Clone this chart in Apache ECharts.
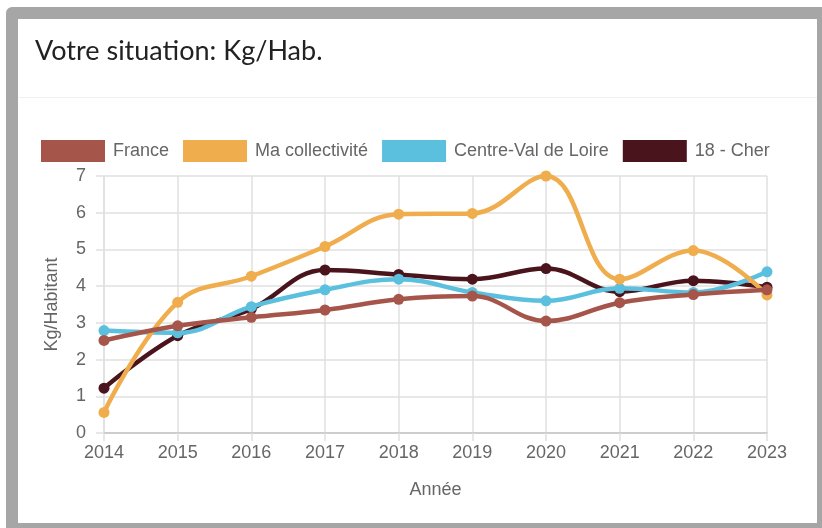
<!DOCTYPE html>
<html>
<head>
<meta charset="utf-8">
<script src="https://cdn.jsdelivr.net/npm/echarts@6/dist/echarts.min.js"></script>
<style>
html,body{margin:0;padding:0;background:#fff;width:822px;height:528px;overflow:hidden;position:relative;}
#frame{position:absolute;left:6px;top:7px;width:823px;height:528px;border:12px solid #a6a6a6;border-radius:6px 0 0 0;box-sizing:border-box;background:#fff;}
#sep{position:absolute;left:18px;top:97px;width:799px;height:1px;background:#f0f0f0;}
#chart{position:absolute;left:0;top:0;width:822px;height:528px;}
</style>
</head>
<body>
<div id="frame"></div>
<div id="sep"></div>
<div id="chart"></div>
<script>
const years = ['2014','2015','2016','2017','2018','2019','2020','2021','2022','2023'];
const france = [2.52, 2.92, 3.15, 3.35, 3.64, 3.73, 3.05, 3.55, 3.77, 3.90];
const maCollectivite = [0.56, 3.56, 4.27, 5.08, 5.96, 5.98, 7.00, 4.19, 4.97, 3.76];
const centreValDeLoire = [2.79, 2.73, 3.44, 3.90, 4.19, 3.83, 3.60, 3.94, 3.83, 4.39];
const cher = [1.22, 2.65, 3.38, 4.44, 4.32, 4.19, 4.48, 3.85, 4.15, 3.97];
const yTicks = [0, 1, 2, 3, 4, 5, 6, 7];

const colors = {
  'France': '#a6554a',
  'Ma collectivité': '#f0ad4e',
  'Centre-Val de Loire': '#5bc0de',
  '18 - Cher': '#4a141c'
};

function mk(name, data, z) {
  return {
    name: name, type: 'line', data: data, smooth: 0.4, z: z, clip: false,
    symbol: 'circle', symbolSize: 11, showSymbol: true,
    itemStyle: {color: colors[name]},
    lineStyle: {color: colors[name], width: 4.5},
    emphasis: {disabled: true}
  };
}

const chart = echarts.init(document.getElementById('chart'), null, {renderer: 'canvas'});
chart.setOption({
  animation: false,
  backgroundColor: 'transparent',
  title: {
    text: 'Votre situation: Kg/Hab.',
    left: 30, top: 33, padding: 5,
    textStyle: {fontFamily: 'Lato', fontWeight: 'normal', fontSize: 27, color: '#222'}
  },
  legend: {
    data: ['France', 'Ma collectivité', 'Centre-Val de Loire', '18 - Cher'],
    left: 41, top: 140, padding: 0,
    itemWidth: 64, itemHeight: 22, itemGap: 14,
    icon: 'rect',
    selectedMode: false,
    textStyle: {fontFamily: 'Liberation Sans', fontSize: 18, color: '#666', padding: [0, 0, 0, 3]}
  },
  grid: {left: 104, right: 55, top: 176, bottom: 95, containLabel: false},
  xAxis: {
    type: 'category', data: years, boundaryGap: false,
    name: 'Année', nameLocation: 'middle', nameGap: 48,
    nameTextStyle: {fontFamily: 'Liberation Sans', fontSize: 18, color: '#666'},
    axisLine: {show: true, lineStyle: {color: '#c4c4c4', width: 1.5}},
    axisTick: {show: true, length: 8, lineStyle: {color: '#e0e0e0', width: 1.5}},
    axisLabel: {fontFamily: 'Liberation Sans', fontSize: 18, color: '#666', margin: 11},
    splitLine: {show: true, lineStyle: {color: '#e0e0e0', width: 1.5}}
  },
  yAxis: {
    type: 'value', min: 0, max: 7, interval: 1,
    name: 'Kg/Habitant', nameLocation: 'middle', nameGap: 43, nameRotate: 90,
    nameTextStyle: {fontFamily: 'Liberation Sans', fontSize: 18, color: '#666'},
    axisLine: {show: true, lineStyle: {color: '#e0e0e0', width: 1.5}},
    axisTick: {show: true, length: 8, lineStyle: {color: '#e0e0e0', width: 1.5}},
    axisLabel: {fontFamily: 'Liberation Sans', fontSize: 18, color: '#666', margin: 18,
      formatter: v => yTicks.includes(v) ? String(v) : ''},
    splitLine: {show: true, lineStyle: {color: '#e0e0e0', width: 1.5}}
  },
  series: [
    mk('18 - Cher', cher, 2),
    mk('Centre-Val de Loire', centreValDeLoire, 3),
    mk('Ma collectivité', maCollectivite, 4),
    mk('France', france, 5)
  ]
});
</script>
</body>
</html>
